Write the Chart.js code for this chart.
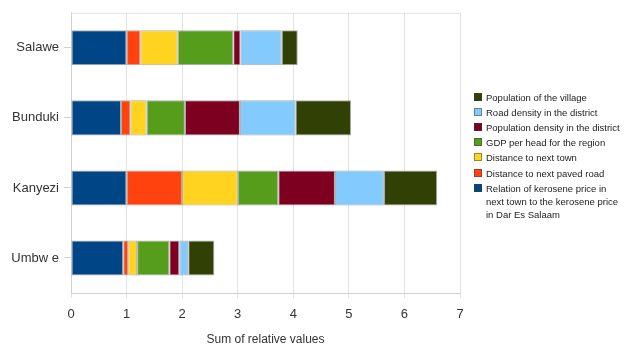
<!DOCTYPE html>
<html>
<head>
<meta charset="utf-8">
<script src="https://cdn.jsdelivr.net/npm/chart.js@4"></script>
<style>
  html, body { margin: 0; padding: 0; background: #fff; }
  #wrap { width: 631px; height: 347px; position: relative; }
  #legend { position: absolute; left: 474px; top: 0; font-family: "Liberation Sans", sans-serif;
            font-size: 9.5px; line-height: 13px; color: #222; }
  .item { position: absolute; left: 0; white-space: nowrap; }
  .box { position: absolute; left: 0; top: 2px; width: 8px; height: 8px; box-sizing: border-box;
         border: 1px solid rgba(60,60,60,0.5); }
  .txt { position: absolute; left: 12px; top: 0; }
</style>
</head>
<body>
<div id="wrap"><canvas id="villageChart"></canvas><div id="legend"></div></div>
<script>
// Data
const villages = ["Salawe", "Bunduki", "Kanyezi", "Umbw e"];
const kerosenePrice = [1.0, 0.9, 1.0, 0.94];
const pavedRoadDistance = [0.25, 0.17, 1.0, 0.09];
const townDistance = [0.67, 0.29, 1.0, 0.16];
const gdpPerHead = [1.0, 0.69, 0.73, 0.58];
const populationDensity = [0.13, 0.99, 1.02, 0.18];
const roadDensity = [0.74, 1.0, 0.88, 0.16];
const villagePopulation = [0.29, 1.0, 0.96, 0.47];
const xTicks = [0, 1, 2, 3, 4, 5, 6, 7];

function makeSet(label, data, color) {
    return {
        label: label,
        data: data,
        backgroundColor: color,
        borderColor: "rgba(90,90,90,0.5)",
        borderWidth: 1,
        borderSkipped: false,
        barPercentage: 0.5,
        categoryPercentage: 1.0,
    };
}

const datasets = [
    makeSet("Relation of kerosene price in\nnext town to the kerosene price\nin Dar Es Salaam", kerosenePrice, "#004586"),
    makeSet("Distance to next paved road", pavedRoadDistance, "#ff420e"),
    makeSet("Distance to next town", townDistance, "#ffd320"),
    makeSet("GDP per head for the region", gdpPerHead, "#579d1c"),
    makeSet("Population density in the district", populationDensity, "#7e0021"),
    makeSet("Road density in the district", roadDensity, "#83caff"),
    makeSet("Population of the village", villagePopulation, "#314004"),
];

// frame line along the top of the plot
const topLine = {
    id: "topLine",
    beforeDatasetsDraw(chart) {
        const a = chart.chartArea, c = chart.ctx;
        c.save();
        c.strokeStyle = "#e3e3e3";
        c.lineWidth = 1;
        c.beginPath();
        c.moveTo(a.left, a.top + 0.5);
        c.lineTo(a.right, a.top + 0.5);
        c.stroke();
        c.restore();
    }
};

const ctx = document.getElementById("villageChart").getContext("2d");
new Chart(ctx, {
    type: "bar",
    data: { labels: villages, datasets: datasets },
    plugins: [topLine],
    options: {
        indexAxis: "y",
        responsive: true,
        maintainAspectRatio: false,
        animation: false,
        layout: { padding: { top: 9, right: 171, left: 0, bottom: 0 } },
        plugins: {
            tooltip: { enabled: false },
            legend: { display: false },
        },
        scales: {
            x: {
                stacked: true,
                min: 0,
                max: 7,
                afterBuildTicks: axis => { axis.ticks = xTicks.map(v => ({ value: v })); },
                afterFit: axis => { axis.height = 54; },
                grid: { color: "#e3e3e3", tickLength: 5 },
                border: { color: "#d0d0d0" },
                ticks: {
                    font: { family: "Liberation Sans", size: 13 },
                    color: "#333",
                    padding: 9,
                },
                title: {
                    display: true,
                    text: "Sum of relative values",
                    font: { family: "Liberation Sans", size: 12 },
                    color: "#333",
                    padding: { top: 12, bottom: 0 },
                },
            },
            y: {
                stacked: true,
                afterFit: axis => { axis.width = 71; },
                grid: { display: true, offset: false, drawOnChartArea: false, tickLength: 7, color: "#d0d0d0" },
                border: { color: "#d0d0d0" },
                ticks: {
                    font: { family: "Liberation Sans", size: 13 },
                    color: "#333",
                    padding: 5,
                },
            },
        },
    },
});

// legend, listed in reverse stacking order
const legend = document.getElementById("legend");
datasets.slice().reverse().forEach((ds, i) => {
    const item = document.createElement("div");
    item.className = "item";
    item.style.top = (90.5 + i * 15.2) + "px";
    const box = document.createElement("div");
    box.className = "box";
    box.style.background = ds.backgroundColor;
    const txt = document.createElement("div");
    txt.className = "txt";
    txt.innerHTML = ds.label.split("\n").join("<br>");
    item.appendChild(box);
    item.appendChild(txt);
    legend.appendChild(item);
});
</script>
</body>
</html>
